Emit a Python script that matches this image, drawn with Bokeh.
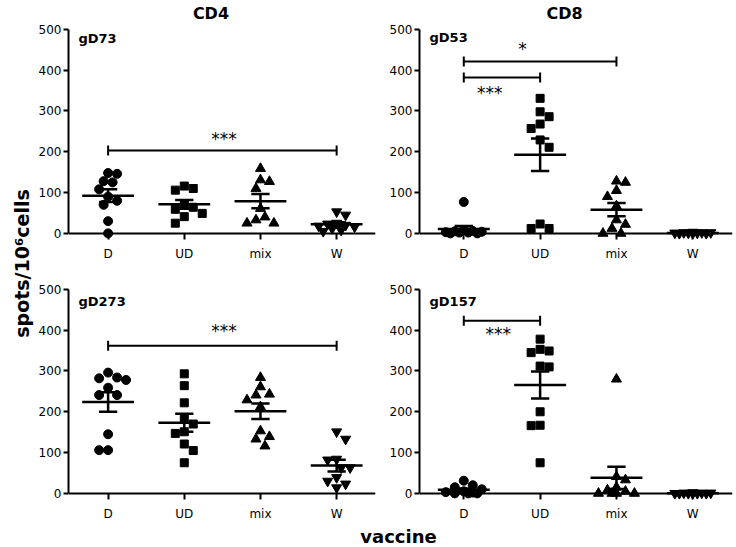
import numpy as np
from bokeh.plotting import figure
from bokeh.models import Range1d, FixedTicker, Span, Label, ColumnDataSource
from bokeh.layouts import row, column
from bokeh.embed import file_html
from bokeh.resources import INLINE

# ---------------- data ----------------
categories = ["D", "UD", "mix", "W"]
y_ticks = [0, 100, 200, 300, 400, 500]

gD73_D = [148, 146, 128, 125, 108, 90, 80, 70, 30, 0]
gD73_UD = [116, 106, 110, 70, 64, 59, 49, 41, 25]
gD73_mix = [159, 131, 127, 110, 61, 40, 33, 25, 25]
gD73_W = [53, 45, 25, 23, 20, 18, 16, 12, 8, 5]

gD53_D = [77, 5, 3, 2, 8, 0, 0, 4, 6, 2]
gD53_UD = [331, 298, 286, 268, 257, 229, 211, 23, 12, 12]
gD53_mix = [125, 128, 105, 90, 67, 33, 22, 12, 0, 0]
gD53_W = [2, 1, 0, 3, 0, 2, 1, 0, 2, 1]

gD273_D = [296, 282, 278, 284, 259, 241, 241, 145, 106, 106]
gD273_UD = [293, 264, 222, 184, 170, 151, 147, 121, 105, 75]
gD273_mix = [284, 261, 241, 229, 243, 212, 139, 153, 133, 116]
gD273_W = [133, 151, 84, 82, 63, 63, 30, 14, 23, 39]

gD157_D = [31, 20, 15, 10, 5, 3, 2, 0, 0, 0]
gD157_UD = [378, 353, 345, 349, 312, 310, 200, 167, 166, 75]
gD157_mix = [280, 41, 33, 15, 8, 5, 0, 0, 0, 0]
gD157_W = [1, 0, 2, 0, 1, 0, 0, 1, 0, 0]

# significance comparisons: (from category, to category, bracket value, mark)
gD73_sig = [(0, 3, 203, "***")]
gD53_sig = [(0, 2, 421, "*"), (0, 1, 382, "***")]
gD273_sig = [(0, 3, 362, "***")]
gD157_sig = [(0, 1, 423, "***")]

# ---------------- styling helpers ----------------
FONT = "DejaVu Sans"
MARKERS = ["circle", "square", "triangle", "inverted_triangle"]
MSIZE = [9, 8, 10, 10]
Y_PX = 204 / 500.0   # pixels per unit on the y axis
X_PX = 76.4          # pixels per category
Y0 = -15             # frame extends a little below zero so markers at 0 are whole


def swarm(vals, d=9.0, maxw=22.0, step=4.5):
    vals = np.asarray(vals, dtype=float)
    order = np.argsort(-vals, kind="stable")
    placed = []
    offs = np.zeros(len(vals))
    base = np.arange(step, maxw + 0.01, step)
    flip = 1
    for i in order:
        y = vals[i] * Y_PX
        cands = [0.0]
        for b in base:
            cands += [flip * b, -flip * b]
        best, bestc, bestgap = None, 0.0, -1.0
        for c in cands:
            gap = min([np.hypot(c - px, y - py) for px, py in placed], default=1e9)
            if gap >= d:
                best = c
                break
            if gap > bestgap:
                bestgap, bestc = gap, c
        if best is None:
            best = bestc
        if best != 0:
            flip = -np.sign(best)
        placed.append((best, y))
        offs[i] = best / X_PX
    return offs


def make_panel(groups, sig, xr, width, ml, mr, frame_h, mb, name, name_y,
               title=None, title_x=None, star_pos=None):
    y_end = Y0 + frame_h / Y_PX
    p = figure(width=width, height=frame_h + mb, x_range=Range1d(*xr),
               y_range=Range1d(Y0, y_end), output_backend="svg",
               toolbar_location=None, min_border_left=ml, min_border_right=mr,
               min_border_top=0, min_border_bottom=mb)
    p.xgrid.visible = False
    p.ygrid.visible = False
    p.outline_line_color = None
    p.background_fill_color = "white"

    # axes
    p.xaxis.ticker = FixedTicker(ticks=list(range(len(categories))))
    p.xaxis.major_label_overrides = {i: c for i, c in enumerate(categories)}
    p.xaxis.axis_line_color = None
    p.xaxis.major_tick_in = 6
    p.xaxis.major_tick_out = 0
    p.xaxis.major_tick_line_width = 2
    p.xaxis.major_tick_line_color = "black"
    p.xaxis.minor_tick_line_color = None
    p.xaxis.major_label_standoff = 7
    p.xaxis.major_label_text_font = FONT
    p.xaxis.major_label_text_font_size = "12px"
    p.xaxis.major_label_text_color = "black"

    p.yaxis.ticker = FixedTicker(ticks=y_ticks)
    p.yaxis.bounds = (0, 500)
    p.yaxis.axis_line_width = 2
    p.yaxis.axis_line_color = "black"
    p.yaxis.major_tick_out = 5
    p.yaxis.major_tick_in = 0
    p.yaxis.major_tick_line_width = 2
    p.yaxis.major_tick_line_color = "black"
    p.yaxis.minor_tick_line_color = None
    p.yaxis.major_label_standoff = 2
    p.yaxis.major_label_text_font = FONT
    p.yaxis.major_label_text_font_size = "12px"
    p.yaxis.major_label_text_color = "black"

    p.add_layout(Span(location=0, dimension="width", line_color="black", line_width=2))

    # points, mean and SEM
    for k, vals in enumerate(groups):
        v = np.asarray(vals, dtype=float)
        xs = k + swarm(v)
        p.scatter(xs, v, marker=MARKERS[k], size=MSIZE[k], color="black")
        m = v.mean()
        sem = v.std(ddof=1) / np.sqrt(len(v))
        src = ColumnDataSource(dict(
            x0=[k - 0.34, k - 0.12, k - 0.12, k],
            x1=[k + 0.34, k + 0.12, k + 0.12, k],
            y0=[m, m + sem, m - sem, m - sem],
            y1=[m, m + sem, m - sem, m + sem]))
        p.segment("x0", "y0", "x1", "y1", source=src, line_color="black", line_width=2.5)

    # significance brackets
    cap = 5 / Y_PX
    for (a, b, yv, txt), (sx, sy) in zip(sig, star_pos):
        src = ColumnDataSource(dict(x0=[a, a, b], x1=[b, a, b],
                                    y0=[yv, yv - cap, yv - cap], y1=[yv, yv + cap, yv + cap]))
        p.segment("x0", "y0", "x1", "y1", source=src, line_color="black", line_width=2)
        p.add_layout(Label(x=sx, y=sy, text=txt, text_align="center", text_baseline="middle",
                           text_font=FONT, text_font_size="17px", text_color="black"))

    p.add_layout(Label(x=xr[0] + 10 / X_PX, y=name_y, text=name, text_align="left",
                       text_baseline="alphabetic", text_font=FONT, text_font_style="bold",
                       text_font_size="13px", text_color="black"))
    if title:
        p.add_layout(Label(x=title_x, y=540, text=title, text_align="center",
                           text_baseline="middle", text_font=FONT, text_font_style="bold",
                           text_font_size="16px", text_color="black"))
    return p


XL = (-0.52, 3.51)
XR = (-0.58, 3.52)

tl = make_panel([gD73_D, gD73_UD, gD73_mix, gD73_W], gD73_sig, XL, 345, 32, 5, 239, 25,
                "gD73", 478, "CD4", 1.35, star_pos=[(1.52, 232)])
tr = make_panel([gD53_D, gD53_UD, gD53_mix, gD53_W], gD53_sig, XR, 356, 39, 4, 239, 25,
                "gD53", 480, "CD8", 1.32, star_pos=[(0.77, 452), (0.34, 345)])
bl = make_panel([gD273_D, gD273_UD, gD273_mix, gD273_W], gD273_sig, XL, 345, 32, 5, 235, 26,
                "gD273", 470, star_pos=[(1.52, 397)])
br = make_panel([gD157_D, gD157_UD, gD157_mix, gD157_W], gD157_sig, XR, 356, 39, 4, 235, 26,
                "gD157", 471, star_pos=[(0.45, 391)])

# shared axis titles (coordinates are page pixels)
ylab = figure(width=35, height=546, x_range=Range1d(0, 35), y_range=Range1d(546, 0),
              x_axis_type=None, y_axis_type=None, toolbar_location=None,
              output_backend="svg", min_border=0)
ylab.outline_line_color = None
ylab.xgrid.visible = False
ylab.ygrid.visible = False
ylab.add_layout(Label(x=21, y=263, text="spots/10\u2076cells", angle=np.pi / 2,
                      text_align="center", text_baseline="middle", text_font=FONT,
                      text_font_style="bold", text_font_size="19px", text_color="black"))

xlab = figure(width=701, height=21, x_range=Range1d(35, 736), y_range=Range1d(546, 525),
              x_axis_type=None, y_axis_type=None, toolbar_location=None,
              output_backend="svg", min_border=0)
xlab.outline_line_color = None
xlab.xgrid.visible = False
xlab.ygrid.visible = False
xlab.add_layout(Label(x=398, y=536, text="vaccine", text_align="center",
                      text_baseline="middle", text_font=FONT, text_font_style="bold",
                      text_font_size="18px", text_color="black"))

layout = row(ylab, column(row(tl, tr), row(bl, br), xlab))

open("out.html", "w").write(file_html(layout, INLINE))
